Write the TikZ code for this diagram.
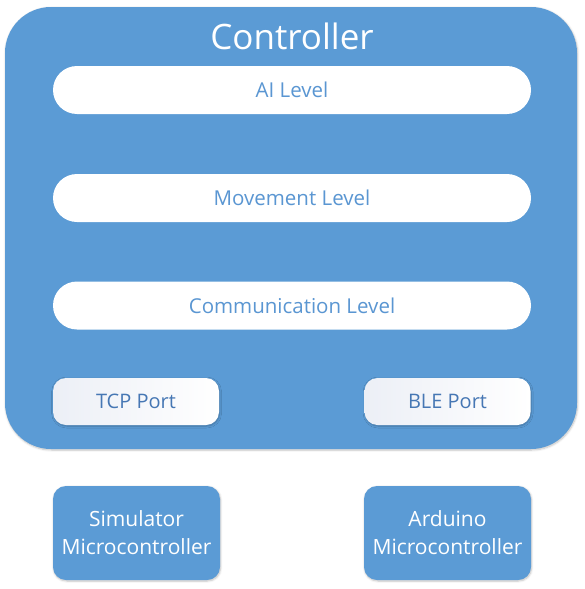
\documentclass[tikz,border=0pt]{standalone}
\usepackage{fontspec}
\setmainfont{Open Sans}
\usetikzlibrary{shadows.blur}
\definecolor{mblue}{HTML}{5B9BD5}
\definecolor{tblue}{HTML}{5A96D2}
\definecolor{pblue}{HTML}{4677B4}
\definecolor{pgray}{HTML}{ECEFF6}
\tikzset{
  x=1pt, y=-1pt,
  shade/.style={blur shadow={shadow blur steps=6, shadow xshift=0.6pt, shadow yshift=-1pt, shadow opacity=25, shadow blur radius=2pt}},
  outer/.style={fill=mblue, rounded corners=46pt, shade, minimum width=572pt, minimum height=442pt, inner sep=0pt},
  levelbar/.style={fill=white, rounded corners=24pt, minimum width=478pt, minimum height=48pt, inner sep=0pt, text=tblue, font=\fontsize{20.5}{24}\selectfont},
  portbox/.style={left color=pgray, right color=white, rounded corners=13pt, minimum width=166pt, minimum height=47pt, inner sep=0pt, text=pblue, font=\fontsize{20}{24}\selectfont, shade},
  mcbox/.style={fill=mblue, rounded corners=13pt, minimum width=167pt, minimum height=94pt, inner sep=0pt, text=white, align=center, font=\fontsize{21}{28}\selectfont, shade},
}
\begin{document}
\begin{tikzpicture}
\useasboundingbox (0,0) rectangle (585,589);
\node[outer] (ctrl) at (291,228) {};
\node[text=white, font=\fontsize{35}{40}\selectfont, inner sep=0pt] (title) at (292,36) {Controller};
\node[levelbar] (ai) at (292,90) {AI Level};
\node[levelbar] (mv) at (292,198) {Movement Level};
\node[levelbar] (cm) at (292,305.5) {Communication Level};
\node[portbox] (tcp) at (136,401.5) {TCP Port};
\node[portbox] (ble) at (447.5,401.5) {BLE Port};
\node[mcbox] (sim) at (136.5,533) {Simulator\\Microcontroller};
\node[mcbox] (ard) at (447.5,533) {Arduino\\Microcontroller};
\end{tikzpicture}
\end{document}
